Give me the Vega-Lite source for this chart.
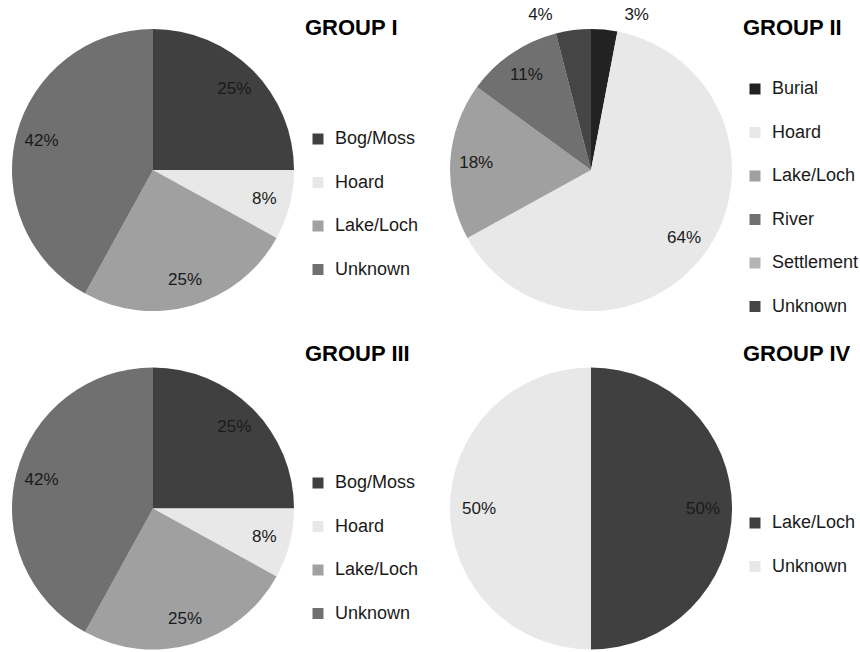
{
  "$schema": "https://vega.github.io/schema/vega-lite/v6.json",
  "background": "white",
  "padding": {"left": 11, "top": 5, "right": 0, "bottom": 0},
  "columns": 2,
  "spacing": {"row": 22, "column": 154},
  "bounds": "flush",
  "resolve": {"scale": {"color": "independent", "theta": "independent"}, "legend": {"color": "independent"}},
  "config": {"view": {"stroke": null}, "font": "Liberation Sans"},
  "concat": [
    {
      "width": 284, "height": 304,
      "data": {"values": [
        {"cat": "Bog/Moss", "v": 0.25},
        {"cat": "Hoard", "v": 0.08},
        {"cat": "Lake/Loch", "v": 0.25},
        {"cat": "Unknown", "v": 0.42}
      ]},
      "layer": [
        {"mark": {"type": "arc", "outerRadius": 141},
         "encoding": {
           "theta": {"field": "v", "type": "quantitative", "stack": true},
           "order": {"field": "cat", "sort": "ascending"},
           "color": {"field": "cat", "type": "nominal", "scale": {"domain": ["Bog/Moss", "Hoard", "Lake/Loch", "Unknown"], "range": ["#404040", "#e8e8e8", "#a0a0a0", "#707070"]},
             "legend": {"title": "GROUP I", "orient": "right", "offset": 10, "padding": 0, "titleFontSize": 22, "titleFontWeight": "bold", "titleColor": "#000000", "titleFont": "Liberation Sans", "titlePadding": 90, "labelFontSize": 18, "labelFont": "Liberation Sans", "labelColor": "#1a1a1a", "symbolType": "square", "symbolSize": 121, "symbolStrokeWidth": 0, "symbolOffset": 4, "labelOffset": 8, "rowPadding": 25.5}}
         }},
        {"mark": {"type": "text", "radius": 115, "fontSize": 17, "font": "Liberation Sans", "color": "#1a1a1a"},
         "encoding": {
           "theta": {"field": "v", "type": "quantitative", "stack": true},
           "order": {"field": "cat", "sort": "ascending"},
           "text": {"condition": {"test": "datum.v >= 0.05", "field": "v", "type": "quantitative", "format": ".0%"}, "value": ""}
         }}
      ]
    },
    {
      "width": 284, "height": 304,
      "data": {"values": [
        {"cat": "Burial", "v": 0.03},
        {"cat": "Hoard", "v": 0.64},
        {"cat": "Lake/Loch", "v": 0.18},
        {"cat": "River", "v": 0.11},
        {"cat": "Settlement", "v": 0},
        {"cat": "Unknown", "v": 0.04}
      ]},
      "layer": [
        {"mark": {"type": "arc", "outerRadius": 141},
         "encoding": {
           "theta": {"field": "v", "type": "quantitative", "stack": true},
           "order": {"field": "cat", "sort": "ascending"},
           "color": {"field": "cat", "type": "nominal", "scale": {"domain": ["Burial", "Hoard", "Lake/Loch", "River", "Settlement", "Unknown"], "range": ["#222222", "#e8e8e8", "#a0a0a0", "#707070", "#b4b4b4", "#454545"]},
             "legend": {"title": "GROUP II", "orient": "right", "offset": 10, "padding": 0, "titleFontSize": 22, "titleFontWeight": "bold", "titleColor": "#000000", "titleFont": "Liberation Sans", "titlePadding": 40, "labelFontSize": 18, "labelFont": "Liberation Sans", "labelColor": "#1a1a1a", "symbolType": "square", "symbolSize": 121, "symbolStrokeWidth": 0, "symbolOffset": 3, "labelOffset": 8, "rowPadding": 25.5}}
         }},
        {"mark": {"type": "text", "radius": 115, "fontSize": 17, "font": "Liberation Sans", "color": "#1a1a1a"},
         "encoding": {
           "theta": {"field": "v", "type": "quantitative", "stack": true},
           "order": {"field": "cat", "sort": "ascending"},
           "text": {"condition": {"test": "datum.v >= 0.05", "field": "v", "type": "quantitative", "format": ".0%"}, "value": ""}
         }},
        {"mark": {"type": "text", "radius": 156, "dx": -31, "fontSize": 17, "font": "Liberation Sans", "color": "#1a1a1a"},
         "encoding": {
           "theta": {"field": "v", "type": "quantitative", "stack": true},
           "order": {"field": "cat", "sort": "ascending"},
           "text": {"condition": {"test": "datum.v > 0 && datum.v < 0.05 && datum.cat === 'Unknown'", "field": "v", "type": "quantitative", "format": ".0%"}, "value": ""}
         }},
        {"mark": {"type": "text", "radius": 156, "dx": 31, "fontSize": 17, "font": "Liberation Sans", "color": "#1a1a1a"},
         "encoding": {
           "theta": {"field": "v", "type": "quantitative", "stack": true},
           "order": {"field": "cat", "sort": "ascending"},
           "text": {"condition": {"test": "datum.v > 0 && datum.v < 0.05 && datum.cat === 'Burial'", "field": "v", "type": "quantitative", "format": ".0%"}, "value": ""}
         }}
      ]
    },
    {
      "width": 284, "height": 329,
      "data": {"values": [
        {"cat": "Bog/Moss", "v": 0.25},
        {"cat": "Hoard", "v": 0.08},
        {"cat": "Lake/Loch", "v": 0.25},
        {"cat": "Unknown", "v": 0.42}
      ]},
      "layer": [
        {"mark": {"type": "arc", "outerRadius": 141},
         "encoding": {
           "theta": {"field": "v", "type": "quantitative", "stack": true},
           "order": {"field": "cat", "sort": "ascending"},
           "color": {"field": "cat", "type": "nominal", "scale": {"domain": ["Bog/Moss", "Hoard", "Lake/Loch", "Unknown"], "range": ["#404040", "#e8e8e8", "#a0a0a0", "#707070"]},
             "legend": {"title": "GROUP III", "orient": "right", "offset": 10, "padding": 0, "titleFontSize": 22, "titleFontWeight": "bold", "titleColor": "#000000", "titleFont": "Liberation Sans", "titlePadding": 108, "labelFontSize": 18, "labelFont": "Liberation Sans", "labelColor": "#1a1a1a", "symbolType": "square", "symbolSize": 121, "symbolStrokeWidth": 0, "symbolOffset": 4, "labelOffset": 8, "rowPadding": 25.5}}
         }},
        {"mark": {"type": "text", "radius": 115, "fontSize": 17, "font": "Liberation Sans", "color": "#1a1a1a"},
         "encoding": {
           "theta": {"field": "v", "type": "quantitative", "stack": true},
           "order": {"field": "cat", "sort": "ascending"},
           "text": {"condition": {"test": "datum.v >= 0.05", "field": "v", "type": "quantitative", "format": ".0%"}, "value": ""}
         }}
      ]
    },
    {
      "width": 284, "height": 329,
      "data": {"values": [
        {"cat": "Lake/Loch", "v": 0.5},
        {"cat": "Unknown", "v": 0.5}
      ]},
      "layer": [
        {"mark": {"type": "arc", "outerRadius": 141},
         "encoding": {
           "theta": {"field": "v", "type": "quantitative", "stack": true},
           "order": {"field": "cat", "sort": "ascending"},
           "color": {"field": "cat", "type": "nominal", "scale": {"domain": ["Lake/Loch", "Unknown"], "range": ["#404040", "#e8e8e8"]},
             "legend": {"title": "GROUP IV", "orient": "right", "offset": 10, "padding": 0, "titleFontSize": 22, "titleFontWeight": "bold", "titleColor": "#000000", "titleFont": "Liberation Sans", "titlePadding": 148, "labelFontSize": 18, "labelFont": "Liberation Sans", "labelColor": "#1a1a1a", "symbolType": "square", "symbolSize": 121, "symbolStrokeWidth": 0, "symbolOffset": 3, "labelOffset": 8, "rowPadding": 25.5}}
         }},
        {"mark": {"type": "text", "radius": 112, "fontSize": 17, "font": "Liberation Sans", "color": "#1a1a1a"},
         "encoding": {
           "theta": {"field": "v", "type": "quantitative", "stack": true},
           "order": {"field": "cat", "sort": "ascending"},
           "text": {"condition": {"test": "datum.v >= 0.05", "field": "v", "type": "quantitative", "format": ".0%"}, "value": ""}
         }}
      ]
    }
  ]
}
